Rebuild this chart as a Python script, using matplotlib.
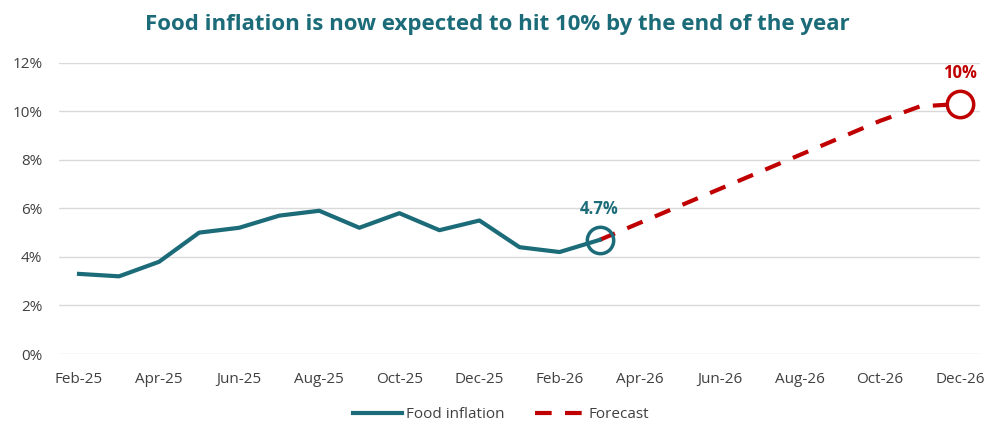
import numpy as np
import matplotlib.pyplot as plt

# monthly series, Feb-25 .. Dec-26
months = ["Feb-25", "Mar-25", "Apr-25", "May-25", "Jun-25", "Jul-25", "Aug-25",
          "Sep-25", "Oct-25", "Nov-25", "Dec-25", "Jan-26", "Feb-26", "Mar-26",
          "Apr-26", "May-26", "Jun-26", "Jul-26", "Aug-26", "Sep-26", "Oct-26",
          "Nov-26", "Dec-26"]
food_inflation = [3.3, 3.2, 3.8, 5.0, 5.2, 5.7, 5.9, 5.2, 5.8, 5.1, 5.5, 4.4, 4.2, 4.7]
forecast = [4.7, 5.4, 6.1, 6.8, 7.5, 8.2, 8.9, 9.6, 10.2, 10.3]

teal = "#1b6b78"
red = "#c00000"
grey = "#404040"

plt.rcParams['font.family'] = ['Open Sans', 'DejaVu Sans']

fig = plt.figure(figsize=(9.9, 4.23), dpi=100)
ax = fig.add_axes([0.0596, 0.1631, 0.9303, 0.6887])

x = np.arange(len(months))
x_act = x[:len(food_inflation)]
x_fc = x[len(food_inflation) - 1:]

ax.plot(x_act, food_inflation, color=teal, lw=3, label="Food inflation", zorder=3)
ax.plot(x_fc, forecast, color=red, lw=3, ls=(0, (4, 3.2)), label="Forecast", zorder=2)

# highlight latest actual and year-end forecast
ax.plot(x_act[-1], food_inflation[-1], 'o', ms=19, mfc='none', mec=teal, mew=2.5, zorder=4)
ax.plot(x_fc[-1], forecast[-1], 'o', ms=19, mfc='white', mec=red, mew=2.5, zorder=4)
ax.annotate(f"{food_inflation[-1]:.1f}%", (x_act[-1], food_inflation[-1]),
            xytext=(0, 16), textcoords='offset points', ha='center', va='bottom',
            color=teal, fontsize=12, fontweight='bold')
ax.annotate(f"{forecast[-1]:.0f}%", (x_fc[-1], forecast[-1]),
            xytext=(0, 16), textcoords='offset points', ha='center', va='bottom',
            color=red, fontsize=12, fontweight='bold')

ax.set_xlim(-0.5, len(months) - 0.5)
ax.set_ylim(0, 12)
ax.set_xticks(x[::2])
ax.set_xticklabels(months[::2])
ax.set_yticks(np.arange(0, 13, 2))
ax.set_yticklabels([f"{v}%" for v in range(0, 13, 2)])
ax.tick_params(length=0, colors=grey, labelsize=11)
ax.tick_params(axis='x', pad=13)
ax.tick_params(axis='y', pad=12)
ax.grid(axis='y', color='#d9d9d9', lw=1)
ax.set_axisbelow(True)
for s in ax.spines.values():
    s.set_visible(False)

fig.suptitle("Food inflation is now expected to hit 10% by the end of the year",
             x=0.502, y=0.968, color=teal, fontsize=16, fontweight='bold')

ax.legend(loc='upper center', bbox_to_anchor=(0.48, -0.135), ncol=2, frameon=False,
          fontsize=11, labelcolor=grey, handlelength=3.2, columnspacing=2.0,
          handletextpad=0.3)

fig.savefig("out.png", dpi=100)
